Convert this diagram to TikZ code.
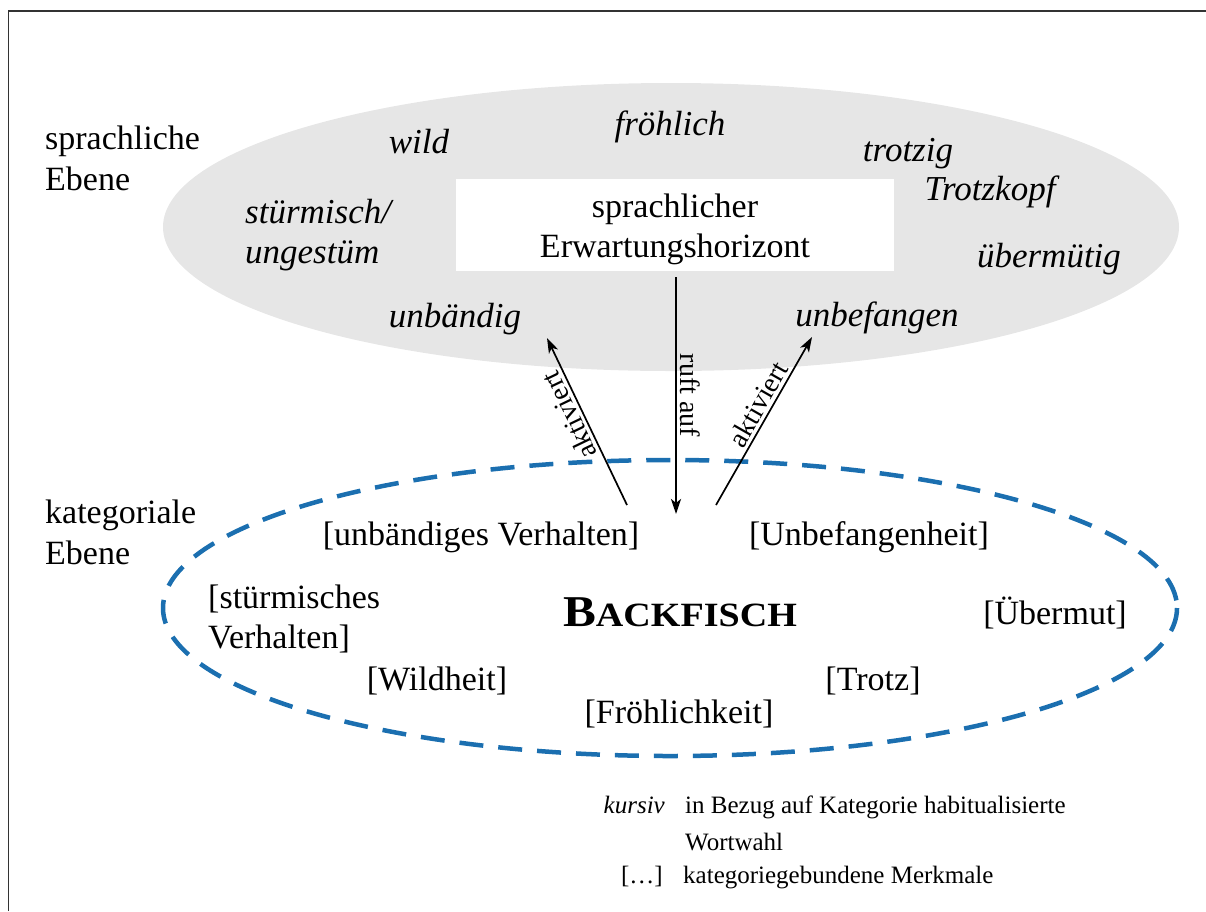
\documentclass[tikz,border=0pt]{standalone}
\usepackage{fontspec}
\setmainfont{Liberation Serif}
\usetikzlibrary{arrows.meta}
\definecolor{ellgray}{HTML}{E6E6E6}
\definecolor{dashblue}{HTML}{1B6FB0}
\definecolor{framecol}{HTML}{333333}
\begin{document}
\begin{tikzpicture}[x=1pt,y=-1pt,
  txt/.style={inner sep=0pt, anchor=base},
  head/.style={font=\fontsize{34}{41}\selectfont, inner sep=0pt, anchor=base west},
  itword/.style={font=\fontsize{35}{40}\selectfont\itshape, inner sep=0pt, anchor=base},
  feat/.style={font=\fontsize{34}{40}\selectfont, inner sep=0pt, anchor=base},
  legend/.style={font=\fontsize{25}{37}\selectfont, inner sep=0pt},
  arrlbl/.style={font=\fontsize{28}{30}\selectfont, inner sep=3pt},
  arr/.style={line width=1.7pt, -{Stealth[length=15pt,width=10pt,inset=4pt]}},
]
\useasboundingbox (0,0) rectangle (1206,911);
% frame
\draw[framecol, line width=1.3pt] (8.5,911) -- (8.5,11) -- (1206,11);

% ellipses
\fill[ellgray] (671,227) ellipse [x radius=508, y radius=144];
\draw[dashblue, line width=4.5pt, dash pattern=on 24pt off 15pt] (670,608) ellipse [x radius=507, y radius=148];

% white box
\node[fill=white, minimum width=438pt, minimum height=92pt, inner sep=0pt] (wbox) at (675,225) {};
\node[font=\fontsize{34}{40}\selectfont, inner sep=0pt, anchor=base] (erw) at (675,217)
  {\begin{tabular}[t]{@{}c@{}}sprachlicher\\Erwartungshorizont\end{tabular}};

% level labels
\node[head] (sprE) at (45,149) {\begin{tabular}[t]{@{}l@{}}sprachliche\\Ebene\end{tabular}};
\node[head] (katE) at (45,523) {\begin{tabular}[t]{@{}l@{}}kategoriale\\Ebene\end{tabular}};

% italic words
\node[itword] (wild) at (419,153) {wild};
\node[itword] (froeh) at (670,135) {fröhlich};
\node[itword] (trotzig) at (908,161) {trotzig};
\node[itword] (trotzkopf) at (990,200) {Trotzkopf};
\node[itword] (uebermuetig) at (1049,267) {übermütig};
\node[itword, anchor=base west] (stuerm) at (245,223) {\begin{tabular}[t]{@{}l@{}}stürmisch/\\ungestüm\end{tabular}};
\node[itword] (unbaendig) at (455,327) {unbändig};
\node[itword] (unbefangen) at (877,326) {unbefangen};

% categorial features
\node[feat] (fUnb) at (481,545) {[unbändiges Verhalten]};
\node[feat] (fUnbef) at (869,545) {[Unbefangenheit]};
\node[feat, anchor=base west] (fStuerm) at (208,608) {\begin{tabular}[t]{@{}l@{}}[stürmisches\\Verhalten]\end{tabular}};
\node[feat] (fUeber) at (1055,624) {[Übermut]};
\node[feat] (fWild) at (437,690) {[Wildheit]};
\node[feat] (fTrotz) at (873,690) {[Trotz]};
\node[feat] (fFroeh) at (679,723) {[Fröhlichkeit]};
\node[txt] (backfisch) at (680,626) {\bfseries\scalebox{1.12}[1]{{\fontsize{44}{44}\selectfont B}{\fontsize{34}{34}\selectfont ACKFISCH}}};

% arrows
\coordinate (mTop) at (676,277);
\coordinate (mBot) at (676,514);
\coordinate (lBase) at (627,505);
\coordinate (lTip) at (547,338);
\coordinate (rBase) at (716,505);
\coordinate (rTip) at (812,337);
\draw[arr, line width=2.4pt] (mTop) -- node[arrlbl, sloped, above, pos=0.5] {ruft auf} (mBot);
\draw[arr] (lBase) -- node[arrlbl, sloped, allow upside down, above, pos=0.57] {aktiviert} (lTip);
\draw[arr] (rBase) -- node[arrlbl, sloped, above, pos=0.56] {aktiviert} (rTip);

% legend
\node[legend, anchor=base east, font=\fontsize{25}{37}\selectfont\itshape] (kursiv) at (665,813) {kursiv};
\node[legend, anchor=base west] (kursivT) at (685,813) {\begin{tabular}[t]{@{}l@{}}in Bezug auf Kategorie habitualisierte\\Wortwahl\end{tabular}};
\node[legend, anchor=base east] (dots) at (663,883) {[…]};
\node[legend, anchor=base west] (dotsT) at (683,883) {kategoriegebundene Merkmale};
\end{tikzpicture}
\end{document}
